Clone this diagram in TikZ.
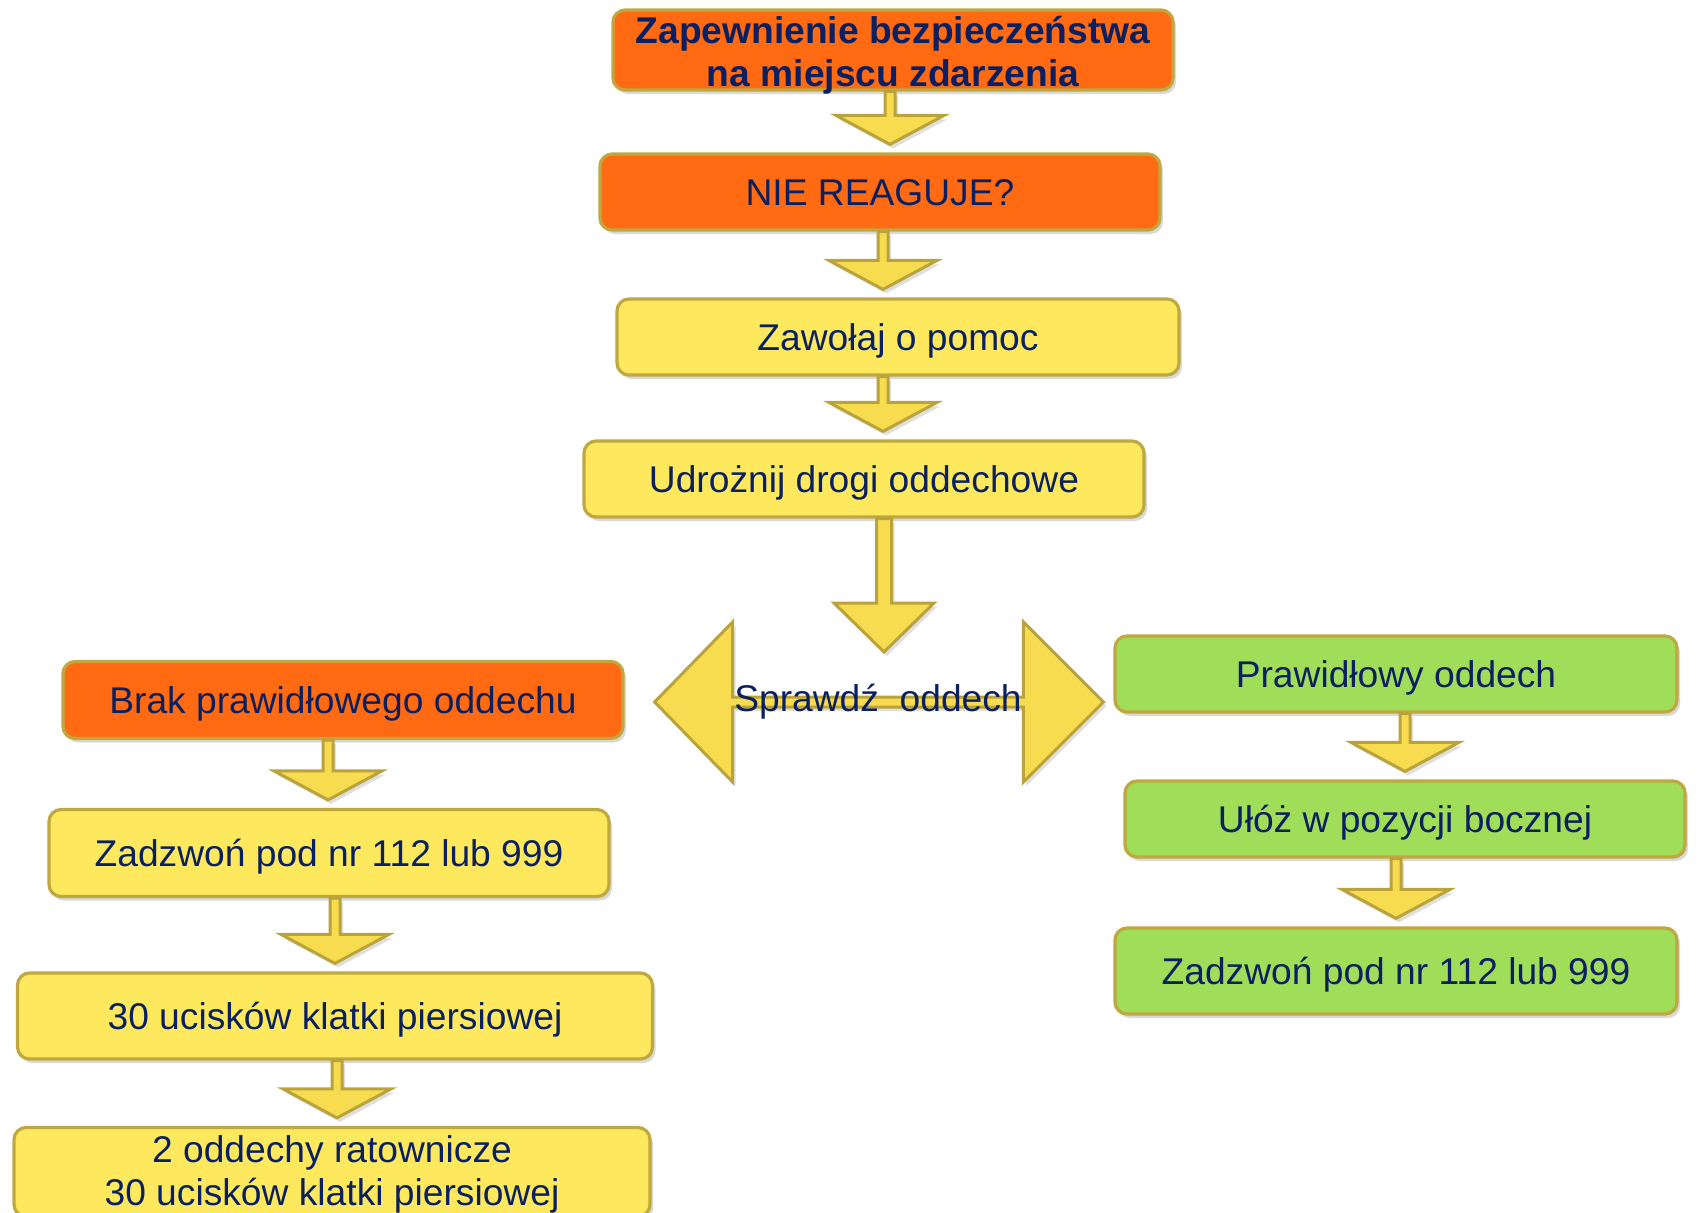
\documentclass[tikz,border=0pt]{standalone}
\usepackage{fontspec}
\setmainfont{Liberation Sans}
\usetikzlibrary{calc,shadows,backgrounds}

\definecolor{boxOrange}{RGB}{255,106,19}
\definecolor{boxYellow}{RGB}{254,233,94}
\definecolor{boxGreen}{RGB}{160,221,88}
\definecolor{boxEdge}{RGB}{192,168,64}
\definecolor{arrowFill}{RGB}{247,220,80}
\definecolor{arrowEdge}{RGB}{187,163,60}
\definecolor{textNavy}{RGB}{10,32,96}

\tikzset{
  stepbox/.style={rectangle, rounded corners=6pt, draw=boxEdge, line width=1.6pt,
    minimum width=280pt, minimum height=38pt, inner sep=0pt, align=center,
    text=textNavy, font=\fontsize{18.6}{21.5}\selectfont,
    drop shadow={shadow xshift=1.5pt, shadow yshift=-2pt, opacity=0.3}},
  oneline/.style={text height=13.5pt, text depth=0pt},
  orangebox/.style={stepbox, fill=boxOrange},
  yellowbox/.style={stepbox, fill=boxYellow},
  greenbox/.style={stepbox, fill=boxGreen},
  blockarrow/.style={draw=arrowEdge, fill=arrowFill, line width=1.5pt,
    drop shadow={shadow xshift=1.5pt, shadow yshift=-2pt, opacity=0.25}}
}

\begin{document}
\begin{tikzpicture}[x=0.5pt,y=-0.5pt]
  \useasboundingbox (0,0) rectangle (1698,1212);

  %% Main column
  \node[orangebox, font=\bfseries\fontsize{18.6}{21.5}\selectfont, minimum height=40pt,
    inner ysep=-2.5pt] (SAFE) at (893,50)
    {\rule{0pt}{19pt}Zapewnienie bezpieczeństwa\\na miejscu zdarzenia};
  \node[orangebox, oneline] (NORESP) at (880,192) {NIE REAGUJE?};
  \node[yellowbox, oneline, minimum width=281pt] (HELP) at (898,337) {Zawołaj o pomoc};
  \node[yellowbox, oneline] (AIRWAY) at (864,479) {Udrożnij drogi oddechowe};

  %% Check node in the middle
  \node[inner sep=0pt, minimum width=145pt, text=textNavy,
    font=\fontsize{18.6}{22}\selectfont] (CHECK) at (878,702) {Sprawdź~~oddech};

  %% Left branch
  \node[orangebox, oneline, minimum height=38.5pt] (NOBR) at (343,700)
    {Brak prawidłowego oddechu};
  \node[yellowbox, oneline, minimum height=43.5pt] (CALLL) at (329,853)
    {Zadzwoń pod nr 112 lub 999};
  \node[yellowbox, oneline, minimum width=317.5pt, minimum height=43pt] (CPR) at (335,1016)
    {30 ucisków klatki piersiowej};
  \node[yellowbox, minimum width=318pt, minimum height=44.5pt] (RESC) at (332,1172)
    {\rule{0pt}{15.5pt}2 oddechy ratownicze\\30 ucisków klatki piersiowej};

  %% Right branch
  \node[greenbox, oneline, minimum width=281pt] (BREATH) at (1396,674) {Prawidłowy oddech};
  \node[greenbox, oneline] (SIDE) at (1405,819) {Ułóż w pozycji bocznej};
  \node[greenbox, oneline, minimum width=281pt, minimum height=43pt] (CALLR) at (1396,971)
    {Zadzwoń pod nr 112 lub 999};

  %% Small block arrows between boxes
  \foreach \a/\b/\dx in {SAFE/NORESP/-3, NORESP/HELP/3, HELP/AIRWAY/-15,
                         NOBR/CALLL/-15, CALLL/CPR/6, CPR/RESC/2,
                         BREATH/SIDE/9, SIDE/CALLR/-9}
  {
    \draw[blockarrow] let \p1=($(\a.south)+(\dx,0)$), \p2=($(\b.north)+(0,4pt)$) in
      (\x1-2.5pt,\y1) -- (\x1-2.5pt,\y2+14.5pt) -- (\x1-27pt,\y2+14.5pt) -- (\x1,\y2)
      -- (\x1+27pt,\y2+14.5pt) -- (\x1+2.5pt,\y2+14.5pt) -- (\x1+2.5pt,\y1) -- cycle;
  }

  %% Big arrow down to the check
  \draw[blockarrow] let \p1=($(AIRWAY.south)+(20,0)$), \p2=($(CHECK.center)+(0,25pt)$) in
    (\x1-3.75pt,\y1) -- (\x1-3.75pt,\y2+24.5pt) -- (\x1-25pt,\y2+24.5pt) -- (\x1,\y2)
    -- (\x1+25pt,\y2+24.5pt) -- (\x1+3.75pt,\y2+24.5pt) -- (\x1+3.75pt,\y1) -- cycle;

  %% Double arrow behind the check text
  \begin{scope}[on background layer]
    \draw[blockarrow] let \p1=(CHECK.west), \p2=(CHECK.east) in
      (\x1,\y1+2.5pt) -- (\x1,\y1+40pt) -- (\x1-39pt,\y1) -- (\x1,\y1-40pt)
      -- (\x1,\y1-2.5pt) -- (\x2,\y2-2.5pt) -- (\x2,\y2-40pt) -- (\x2+40pt,\y2)
      -- (\x2,\y2+40pt) -- (\x2,\y2+2.5pt) -- cycle;
  \end{scope}

\end{tikzpicture}
\end{document}
